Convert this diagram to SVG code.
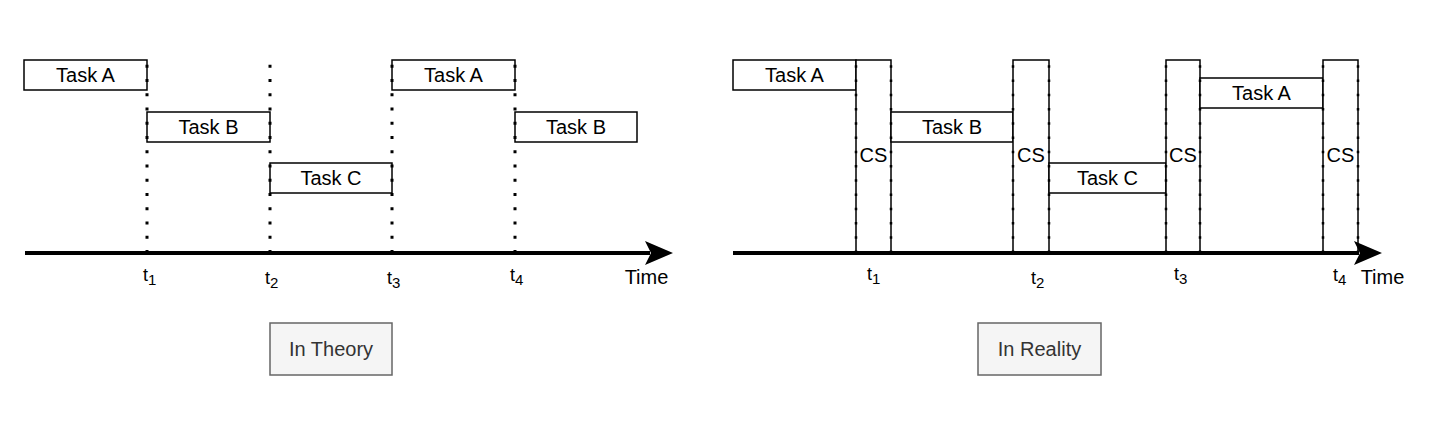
<svg xmlns="http://www.w3.org/2000/svg" width="1435" height="425" viewBox="0 0 1435 425">
<style>
.box{fill:#fff;stroke:#000;stroke-width:1.5}
.lbl{fill:#f5f5f5;stroke:#666;stroke-width:1.5}
.t{font-family:"Liberation Sans",Arial,sans-serif;font-size:20px;fill:#000;text-anchor:middle}
.tl{font-family:"Liberation Sans",Arial,sans-serif;font-size:20px;fill:#333;text-anchor:middle}
.tk{font-family:"Liberation Sans",Arial,sans-serif;font-size:18px;fill:#000}
.sub{font-size:15px}
.dot{stroke:#000;stroke-width:3;stroke-dasharray:3 11.25;fill:none}
.dot2{stroke:#000;stroke-width:2.5;stroke-dasharray:2.5 11.75;fill:none}
.axis{stroke:#000;stroke-width:4;fill:none}
</style>
<rect width="1435" height="425" fill="#fff"/>

<!-- Left panel: In Theory -->
<g id="theory-taskA1"><rect class="box" x="24" y="60" width="123" height="30"/><text class="t" x="85.5" y="82">Task A</text></g>
<g id="theory-taskB1"><rect class="box" x="147" y="112" width="123" height="30"/><text class="t" x="208.5" y="134">Task B</text></g>
<g id="theory-taskC"><rect class="box" x="270" y="163" width="122" height="30"/><text class="t" x="331" y="185">Task C</text></g>
<g id="theory-taskA2"><rect class="box" x="392" y="60" width="123" height="30"/><text class="t" x="453.5" y="82">Task A</text></g>
<g id="theory-taskB2"><rect class="box" x="515" y="112" width="122" height="30"/><text class="t" x="576" y="134">Task B</text></g>
<g id="theory-label"><rect class="lbl" x="270" y="323" width="122" height="52"/><text class="tl" x="331" y="356">In Theory</text></g>

<!-- Right panel: In Reality -->
<g id="reality-taskA1"><rect class="box" x="733" y="60" width="123" height="30"/><text class="t" x="794.5" y="82">Task A</text></g>
<g id="reality-cs1"><rect class="box" x="856" y="60" width="35" height="193"/><text class="t" x="873.5" y="162">CS</text></g>
<g id="reality-taskB"><rect class="box" x="891" y="112" width="122" height="30"/><text class="t" x="952" y="134">Task B</text></g>
<g id="reality-cs2"><rect class="box" x="1013" y="60" width="36" height="193"/><text class="t" x="1031" y="162">CS</text></g>
<g id="reality-taskC"><rect class="box" x="1049" y="163" width="117" height="30"/><text class="t" x="1107.5" y="185">Task C</text></g>
<g id="reality-cs3"><rect class="box" x="1166" y="60" width="34" height="193"/><text class="t" x="1183" y="162">CS</text></g>
<g id="reality-taskA2"><rect class="box" x="1200" y="78" width="123" height="30"/><text class="t" x="1261.5" y="100">Task A</text></g>
<g id="reality-cs4"><rect class="box" x="1323" y="60" width="35" height="193"/><text class="t" x="1340.5" y="162">CS</text></g>
<g id="reality-label"><rect class="lbl" x="978" y="323" width="123" height="52"/><text class="tl" x="1039.5" y="356">In Reality</text></g>

<!-- Connectors: dotted time markers and axes -->
<g id="connectors">
  <path class="dot" d="M147,253V60 M270,253V60 M392,253V60 M515,253V60"/>
  <path class="dot2" d="M856,253V60 M891,253V60 M1013,253V60 M1049,253V60 M1166,253V60 M1200,253V60 M1323,253V60 M1358,253V60"/>
  <path class="axis" d="M25,253H650"/>
  <path d="M645,241 L673,253 L645,265 L651,253 Z" fill="#000"/>
  <path class="axis" d="M733,253H1359"/>
  <path d="M1354,241 L1382,253 L1354,265 L1360,253 Z" fill="#000"/>
</g>

<!-- Axis labels -->
<g id="theory-ticks">
  <text class="tk" x="143" y="281">t<tspan class="sub" dy="4">1</tspan></text>
  <text class="tk" x="265" y="284">t<tspan class="sub" dy="4">2</tspan></text>
  <text class="tk" x="387" y="284">t<tspan class="sub" dy="4">3</tspan></text>
  <text class="tk" x="510" y="281">t<tspan class="sub" dy="4">4</tspan></text>
  <text class="t" x="646.5" y="284">Time</text>
</g>
<g id="reality-ticks">
  <text class="tk" x="867" y="280">t<tspan class="sub" dy="4">1</tspan></text>
  <text class="tk" x="1031" y="284">t<tspan class="sub" dy="4">2</tspan></text>
  <text class="tk" x="1174" y="280">t<tspan class="sub" dy="4">3</tspan></text>
  <text class="tk" x="1333" y="281">t<tspan class="sub" dy="4">4</tspan></text>
  <text class="t" x="1382.5" y="284">Time</text>
</g>
</svg>
